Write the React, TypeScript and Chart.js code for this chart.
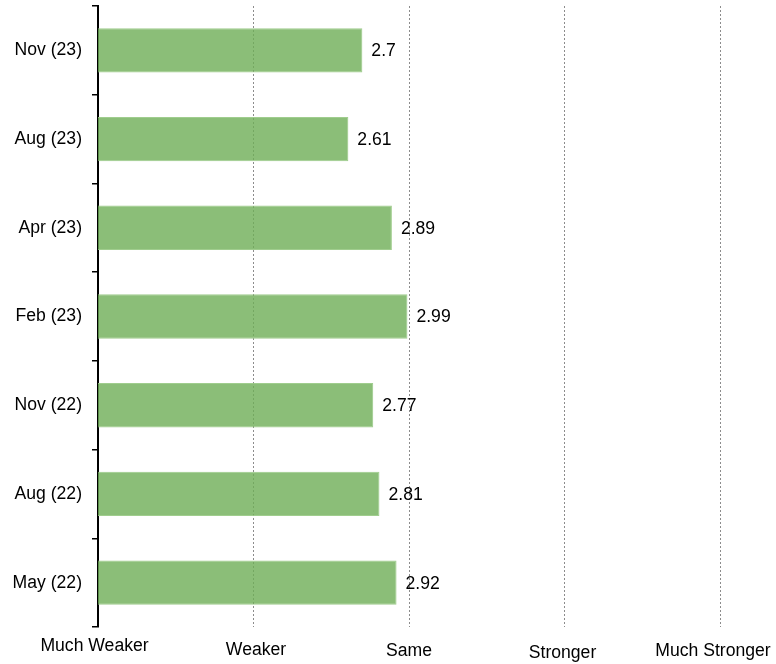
import React, { useEffect, useRef } from "react";
import { Chart, registerables } from "chart.js";

Chart.register(...registerables);

const categories = ["Nov (23)", "Aug (23)", "Apr (23)", "Feb (23)", "Nov (22)", "Aug (22)", "May (22)"];
const values = [2.7, 2.61, 2.89, 2.99, 2.77, 2.81, 2.92];
const xTickLabels = ["Much Weaker", "Weaker", "Same", "Stronger", "Much Stronger"];

const FONT_SIZE = 17.6;
const FONT_FAMILY = '"Liberation Sans", Arial, sans-serif';
const FONT = `${FONT_SIZE}px ${FONT_FAMILY}`;

// staggered x-axis label placement (style only)
const xLabelDx = [-3.5, 2.5, 0, -2, -7];
const xLabelBaseline = [651, 654.5, 655.5, 657.5, 656];

const xLabelsPlugin = {
  id: "xLabels",
  afterDraw(chart: any) {
    const ctx = chart.ctx;
    const xs = chart.scales.x;
    ctx.save();
    ctx.font = FONT;
    ctx.fillStyle = "#000";
    ctx.textAlign = "center";
    ctx.textBaseline = "alphabetic";
    xTickLabels.forEach((t, i) => {
      const x = xs.getPixelForValue(i + 1) + xLabelDx[i];
      ctx.fillText(t, x, xLabelBaseline[i]);
    });
    ctx.restore();
  },
};

const valueLabelsPlugin = {
  id: "valueLabels",
  afterDatasetsDraw(chart: any) {
    const ctx = chart.ctx;
    const meta = chart.getDatasetMeta(0);
    ctx.save();
    ctx.font = FONT;
    ctx.fillStyle = "#000";
    ctx.textAlign = "left";
    ctx.textBaseline = "middle";
    meta.data.forEach((bar: any, i: number) => {
      ctx.fillText(String(values[i]), bar.x + 9, bar.y + 1);
    });
    ctx.restore();
  },
};

export default function App() {
  const ref = useRef<HTMLCanvasElement | null>(null);
  useEffect(() => {
    if (!ref.current) return;
    const chart = new Chart(ref.current, {
      type: "bar",
      data: {
        labels: categories,
        datasets: [
          {
            data: values,
            backgroundColor: "rgba(110,174,86,0.8)",
            borderColor: "rgba(150,200,130,0.9)",
            borderWidth: 1,
            barPercentage: 0.5,
            categoryPercentage: 1,
          } as any,
        ],
      },
      options: {
        indexAxis: "y",
        responsive: false,
        devicePixelRatio: 1,
        animation: false,
        layout: { padding: { top: 6, right: 56, left: 0, bottom: 0 } },
        plugins: { legend: { display: false }, tooltip: { enabled: false } },
        scales: {
          x: {
            type: "linear",
            min: 1,
            max: 5,
            ticks: { display: false, stepSize: 1 },
            border: { display: false, dash: [2, 2] },
            grid: {
              drawTicks: false,
              color: (c: any) => (c.tick && c.tick.value === 1 ? "rgba(0,0,0,0)" : "#8c8c8c"),
              lineWidth: 1,
            },
            afterFit: (s: any) => {
              s.height = 37;
            },
          } as any,
          y: {
            type: "category",
            border: { display: true, color: "#000", width: 2 },
            grid: {
              display: true,
              drawOnChartArea: false,
              drawTicks: true,
              tickLength: 6,
              color: "#000",
              lineWidth: 1.5,
              offset: true,
            },
            ticks: { color: "#000", font: { family: FONT_FAMILY, size: FONT_SIZE }, padding: 10 },
            afterFit: (s: any) => {
              s.width = 98;
              s.paddingTop = 0;
              s.paddingBottom = 0;
            },
          } as any,
        },
      } as any,
      plugins: [valueLabelsPlugin, xLabelsPlugin],
    });
    return () => chart.destroy();
  }, []);
  return (
    <div style={{ position: "absolute", left: 0, top: 0, width: 776, height: 664 }}>
      <canvas ref={ref} width={776} height={664} />
    </div>
  );
}
